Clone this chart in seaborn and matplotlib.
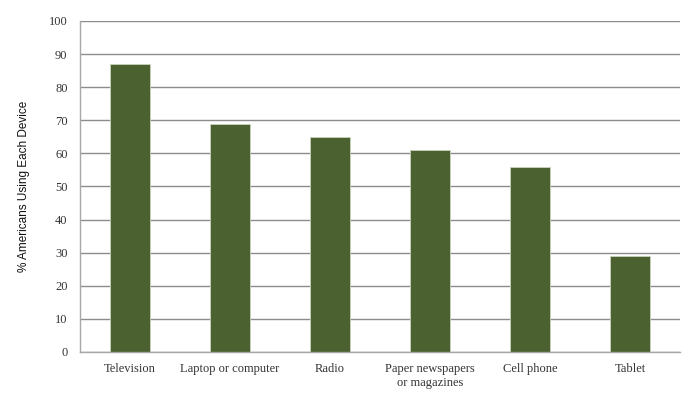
import matplotlib
matplotlib.use('Agg')
import matplotlib.pyplot as plt
import seaborn as sns
import pandas as pd
from matplotlib.ticker import FixedLocator

devices = ["Television", "Laptop or computer", "Radio",
           "Paper newspapers\nor magazines", "Cell phone", "Tablet"]
percent_using = [87, 69, 65, 61, 56, 29]
y_ticks = [0, 10, 20, 30, 40, 50, 60, 70, 80, 90, 100]

df = pd.DataFrame({'Device': devices, 'Percent': percent_using})

sns.set_style('white')
plt.rcParams['font.family'] = ['Liberation Serif', 'DejaVu Serif']

fig = plt.figure(figsize=(7, 4.03), dpi=100)
ax = fig.add_axes([0.1143, 0.1266, 0.857, 0.8214])

sns.barplot(data=df, x='Device', y='Percent', color='#4b6130',
            width=0.4, saturation=1, edgecolor='#c9d2bd', linewidth=0.6, ax=ax)

ax.set_ylim(0, 100)
ax.set_xlim(-0.5, len(devices) - 0.5)
ax.set_yticks(y_ticks)
ax.yaxis.grid(True, color='#8c8c8c', linewidth=1)
ax.set_axisbelow(True)

ax.set_xlabel('')
ax.set_ylabel('% Americans Using Each Device', fontsize=8.5, color='#111111',
              family=['Liberation Sans', 'DejaVu Sans'])
ax.yaxis.set_label_coords(-0.084, 0.5)

# category separators on the x axis
ax.xaxis.set_minor_locator(FixedLocator([i - 0.5 for i in range(len(devices) + 1)]))
ax.tick_params(axis='x', which='major', length=0, pad=8, labelsize=9, colors='#333333')
ax.tick_params(axis='x', which='minor', length=5, width=1, color='#a8a8a8', direction='out')
ax.tick_params(axis='y', length=5, width=1, color='#a8a8a8', direction='out',
               labelsize=9, labelcolor='#333333', pad=4)

for side in ['top', 'right']:
    ax.spines[side].set_visible(False)
for side in ['left', 'bottom']:
    ax.spines[side].set_color('#a8a8a8')
    ax.spines[side].set_linewidth(1)

fig.savefig('out.png', dpi=100)
